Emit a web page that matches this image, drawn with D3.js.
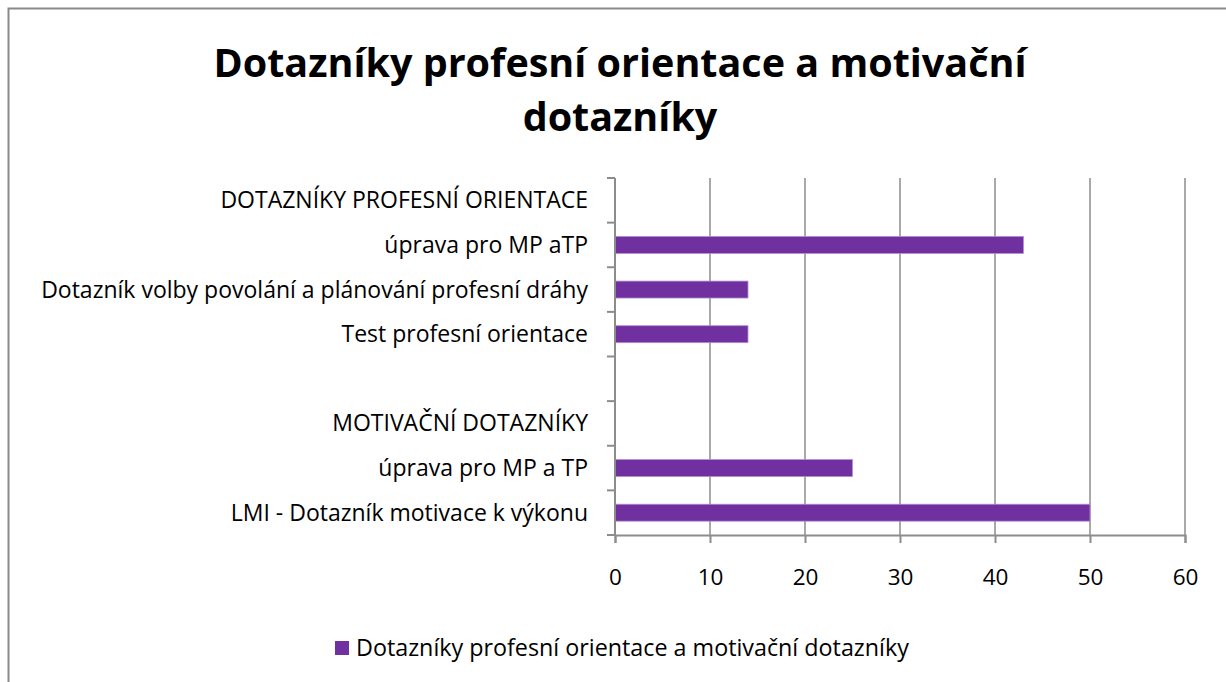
<!DOCTYPE html>
<html>
<head>
<meta charset="utf-8">
<script src="https://cdn.jsdelivr.net/npm/d3@7"></script>
<style>
  body { margin: 0; background: #fff; }
  text { font-family: "Open Sans", "Noto Sans", sans-serif; fill: #000; }
</style>
</head>
<body>
<div id="chart"></div>
<script>
// categories from top to bottom, as in the picture
var categories = [
	"DOTAZNÍKY PROFESNÍ ORIENTACE",
	"úprava pro MP aTP",
	"Dotazník volby povolání a plánování profesní dráhy",
	"Test profesní orientace",
	"",
	"MOTIVAČNÍ DOTAZNÍKY",
	"úprava pro MP a TP",
	"LMI - Dotazník motivace k výkonu"
];
var values = [null, 43, 14, 14, null, null, 25, 50];
var xTicks = [0, 10, 20, 30, 40, 50, 60];
var seriesName = "Dotazníky profesní orientace a motivační dotazníky";
var titleLines = ["Dotazníky profesní orientace a motivační", "dotazníky"];

var cfg = {
	w: 1226,
	h: 682,
	margin: {top: 178, right: 41, bottom: 147, left: 615},
	color: "#7030a0",
	grid: "#8c8c8c"
};

var graphW = cfg.w - cfg.margin.left - cfg.margin.right;
var graphH = cfg.h - cfg.margin.top - cfg.margin.bottom;

var svg = d3.select("#chart")
	.append("svg")
	.attr("width", cfg.w)
	.attr("height", cfg.h);

// outer frame
svg.append("rect")
	.attr("x", 8.5).attr("y", 8.5)
	.attr("width", 1240).attr("height", 700)
	.attr("fill", "none")
	.attr("stroke", "#8a8a8a")
	.attr("stroke-width", 2);

// title
svg.append("g").selectAll("text")
	.data(titleLines)
	.join("text")
	.attr("x", 620)
	.attr("y", function(d, i) { return 77 + i * 54; })
	.attr("text-anchor", "middle")
	.attr("font-size", "39.5px")
	.attr("font-weight", "bold")
	.text(function(d) { return d; });

var g = svg.append("g")
	.attr("transform", "translate(" + cfg.margin.left + "," + cfg.margin.top + ")");

var x = d3.scaleLinear().domain([0, 60]).range([0, graphW]);
var y = d3.scaleBand().domain(d3.range(categories.length)).range([0, graphH]).paddingInner(0.62).paddingOuter(0.31);

// gridlines
g.append("g").selectAll("line")
	.data(xTicks.slice(1))
	.join("line")
	.attr("x1", function(d) { return x(d); })
	.attr("x2", function(d) { return x(d); })
	.attr("y1", 0)
	.attr("y2", graphH)
	.attr("stroke", cfg.grid)
	.attr("stroke-width", 1.5);

// bars
g.append("g").selectAll("rect")
	.data(values.map(function(v, i) { return {i: i, v: v}; }).filter(function(d) { return d.v !== null; }))
	.join("rect")
	.attr("x", x(0))
	.attr("y", function(d) { return y(d.i); })
	.attr("width", function(d) { return x(d.v) - x(0); })
	.attr("height", y.bandwidth())
	.attr("fill", cfg.color)
	.attr("stroke", "#b48fd0")
	.attr("stroke-width", 0.8);

// x axis
var xAxis = g.append("g")
	.attr("transform", "translate(0," + graphH + ")")
	.call(d3.axisBottom(x).tickValues(xTicks).tickSize(8).tickPadding(26));
xAxis.select(".domain").attr("stroke", cfg.grid).attr("stroke-width", 2);
xAxis.selectAll(".tick line").attr("stroke", cfg.grid).attr("stroke-width", 2);
xAxis.selectAll(".tick text").attr("font-size", "22.5px").attr("font-family", "Open Sans, Noto Sans, sans-serif");

// y axis: ticks between categories
var yPos = d3.scaleLinear().domain([0, categories.length]).range([0, graphH]);
var yAxis = g.append("g");
yAxis.append("line")
	.attr("x1", 0).attr("x2", 0)
	.attr("y1", 0).attr("y2", graphH)
	.attr("stroke", cfg.grid).attr("stroke-width", 2);
yAxis.selectAll(".ytick")
	.data(d3.range(categories.length + 1))
	.join("line")
	.attr("class", "ytick")
	.attr("x1", -8).attr("x2", 0)
	.attr("y1", function(d) { return yPos(d); })
	.attr("y2", function(d) { return yPos(d); })
	.attr("stroke", cfg.grid).attr("stroke-width", 2);
yAxis.selectAll(".ylabel")
	.data(categories)
	.join("text")
	.attr("class", "ylabel")
	.attr("x", -27)
	.attr("y", function(d, i) { return y(i) + y.bandwidth() / 2; })
	.attr("dy", "0.35em")
	.attr("text-anchor", "end")
	.attr("font-size", "23px")
	.text(function(d) { return d; });

// legend
var legend = svg.append("g").attr("transform", "translate(335,641)");
legend.append("rect")
	.attr("width", 14).attr("height", 14)
	.attr("fill", cfg.color);
legend.append("text")
	.attr("x", 21).attr("y", 7)
	.attr("dy", "0.35em")
	.attr("font-size", "23.3px")
	.text(seriesName);
</script>
</body>
</html>
